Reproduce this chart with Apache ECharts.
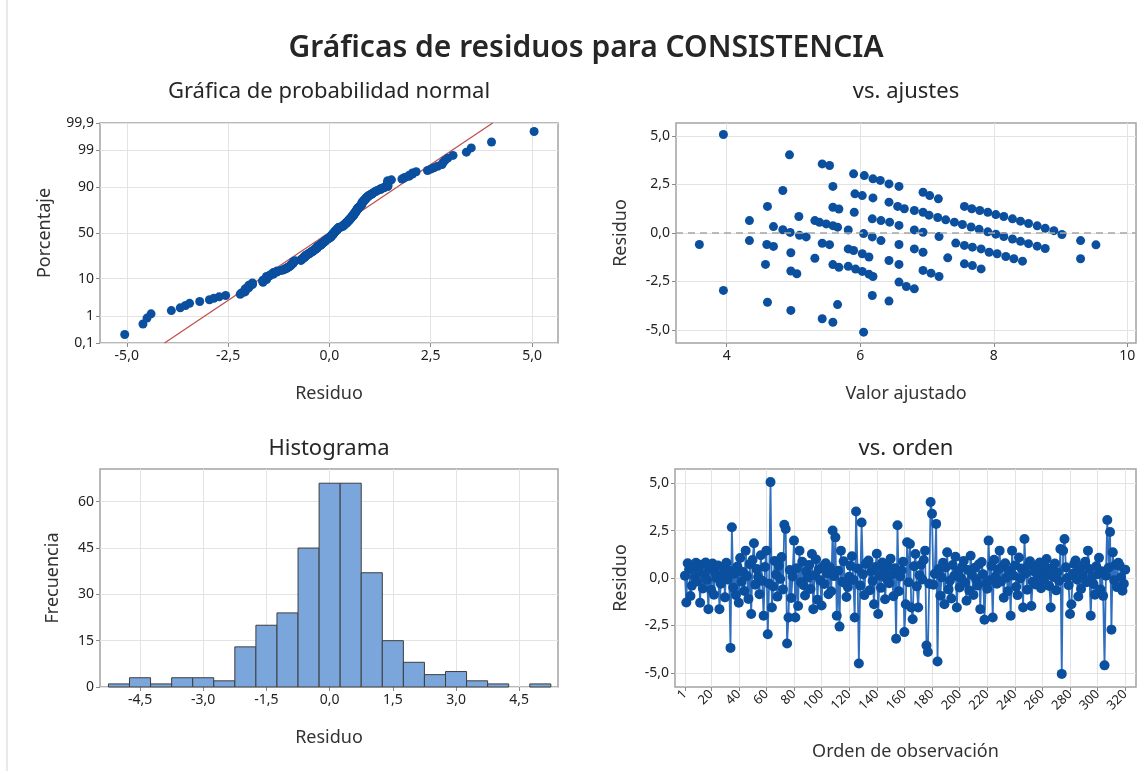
<!DOCTYPE html>
<html><head><meta charset="utf-8">
<script src="https://cdn.jsdelivr.net/npm/echarts@6/dist/echarts.min.js"></script>
<style>html,body{margin:0;padding:0;background:#fff;}#c{width:1147px;height:771px;}</style>
</head><body><div id="c"></div>
<script>
// ---------------- DATA ----------------
const mainTitle = 'Gráficas de residuos para CONSISTENCIA';
const panelTitles = ['Gráfica de probabilidad normal', 'vs. ajustes', 'Histograma', 'vs. orden'];

// residuals in observation order (read from the "vs. orden" panel)
const orderResid = [
 0.12,-1.29,0.78,0.45,-0.95,-0.4,0.62,0.05,0.8,-0.18,
 0.35,-1.3,0.7,-0.55,0.2,0.82,-0.1,-1.64,0.5,-0.62,
 0.76,-0.88,0.28,0.0,0.66,-1.64,-0.3,0.15,0.55,-1.02,
 0.8,-0.08,0.4,-3.68,2.67,-0.5,0.22,-0.9,0.6,-1.3,
 1.05,-0.2,0.32,-0.68,1.44,0.1,-1.1,0.72,-1.9,0.95,
 1.83,-0.35,0.48,0.05,-0.85,1.2,-0.15,-1.99,0.58,1.44,
 -2.96,-0.3,5.05,-1.55,-0.45,0.9,0.18,-0.98,0.65,-0.05,
 1.1,-0.6,2.8,2.58,-3.45,-2.08,0.42,-1.05,0.08,1.97,
 -2.08,0.52,-1.47,1.44,-0.22,0.85,-0.38,-0.92,0.36,0.02,
 0.68,-0.58,1.26,-1.64,0.14,0.98,-1.15,0.46,-0.12,-1.45,
 0.6,-0.32,0.78,0.24,-0.86,0.55,-0.7,2.5,0.1,2.14,
 -1.99,0.38,-2.56,1.44,-0.2,0.88,-0.27,-1.0,-0.48,0.06,
 0.64,1.15,-0.1,-2.08,3.5,0.5,-4.5,-0.4,2.92,0.2,
 -0.9,0.74,0.8,0.92,-0.64,0.34,-0.16,-1.38,0.58,1.28,
 -1.9,0.12,-0.52,0.82,0.44,-1.12,-0.04,0.66,-0.28,1.02,
 0.18,-0.96,0.52,-3.2,2.78,-0.7,0.08,0.4,0.86,-2.85,
 -1.38,1.88,-0.22,1.79,-1.55,-2.17,0.62,1.26,-0.44,-1.55,
 0.15,0.7,-0.08,0.95,1.44,-3.55,-3.9,-0.3,4.0,3.38,
 -0.36,0.22,2.85,-4.4,0.48,-0.93,0.04,0.8,-1.38,0.56,
 1.35,-0.6,-0.14,-1.08,0.68,0.1,1.12,-1.55,0.36,-0.5,
 0.0,0.6,0.9,-0.24,-1.2,0.42,-0.66,1.17,0.16,-0.89,
 0.54,-0.06,-0.4,0.72,-1.64,0.84,0.2,-2.2,-0.28,-0.56,
 1.97,-0.12,0.64,-2.08,0.96,0.07,-0.3,0.46,1.44,-0.18,
 0.58,-1.04,0.78,0.02,-0.7,0.38,-1.99,1.44,0.13,0.66,
 -0.46,-0.9,1.08,-0.02,0.5,-1.55,2.05,0.24,-0.62,0.7,
 0.88,-1.47,-0.2,0.34,-0.34,0.6,0.1,0.82,-0.54,0.44,
 -0.1,0.62,1.0,0.18,-0.42,-1.55,0.52,0.05,0.76,-0.65,
 0.3,-0.16,1.53,-5.05,1.44,2.05,0.56,0.0,-0.38,-1.9,
 -1.38,0.22,0.74,0.92,-0.08,-0.97,0.4,-0.58,0.14,0.68,
 0.86,-0.22,1.44,0.48,-1.99,0.06,-0.32,-0.88,0.62,0.2,
 1.06,-0.6,0.36,-0.94,-4.6,0.12,3.05,0.54,2.42,-2.72,
 1.35,-0.12,0.7,-0.48,0.8,0.65,0.04,-0.67,-0.3,0.44
];

// vs. fits panel (visible points)
const fitsX = [
 3.59,3.95,3.95,4.34,4.34,4.61,4.58,4.61,4.60,4.70,4.70,4.84,4.84,4.95,4.94,4.96,4.96,5.05,4.96,5.08,
 5.09,5.19,5.32,5.39,5.49,5.59,5.66,5.32,5.43,5.54,5.43,5.59,5.43,5.54,5.59,5.59,5.68,5.59,5.68,5.66,
 5.82,5.82,5.90,6.03,6.13,5.82,5.93,6.03,6.13,6.19,5.90,5.92,6.03,6.19,5.91,6.05,6.18,6.18,6.18,6.05,
 6.06,6.19,6.30,6.43,6.58,6.94,7.04,7.17,6.43,6.56,6.66,6.81,6.94,
 7.56,7.67,7.79,7.91,8.03,8.15,8.28,8.40,8.52,8.65,8.77,8.90,9.02,
 7.03,7.16,7.28,7.41,7.53,7.66,7.78,7.91,8.03,8.15,8.28,8.40,8.52,8.65,8.77,
 6.31,6.44,6.58,6.81,6.94,7.18,6.31,6.58,6.81,6.94,
 7.43,7.56,7.68,7.81,7.93,8.05,8.18,8.30,8.43,
 7.31,7.56,7.68,7.81,6.43,6.58,6.94,7.06,7.18,6.58,6.69,6.81,6.43,
 9.30,9.30,9.53
];
const fitsResid = [
 -0.59,5.08,-2.96,0.64,-0.39,1.37,-1.62,-3.57,-0.59,-0.69,0.33,2.19,0.17,0.03,4.03,-1.02,-1.96,-2.10,-3.99,0.85,
 -0.12,-0.20,0.64,0.55,0.47,0.38,0.30,-1.30,-0.53,-0.60,-4.42,-4.60,3.56,3.48,2.40,1.33,1.24,-1.63,-1.77,-3.69,
 0.16,-0.82,-0.90,-1.07,-1.24,-1.72,-1.86,-1.98,-2.12,-2.24,3.05,2.02,1.93,1.81,1.07,-0.03,-0.20,0.73,-3.22,-5.11,
 2.96,2.79,2.71,2.53,2.40,2.10,1.93,1.76,1.59,1.37,1.25,1.16,1.07,
 1.37,1.25,1.16,1.07,0.95,0.85,0.73,0.61,0.49,0.37,0.24,0.12,-0.08,
 0.92,0.80,0.68,0.56,0.44,0.31,0.19,0.06,-0.06,-0.18,-0.31,-0.43,-0.55,-0.68,-0.80,
 0.64,0.56,0.39,0.16,0.04,-0.18,-0.39,-0.59,-0.82,-0.99,
 -0.52,-0.64,-0.73,-0.82,-0.99,-1.07,-1.21,-1.33,-1.45,
 -1.28,-1.59,-1.68,-1.85,-1.42,-1.62,-1.93,-2.07,-2.24,-2.53,-2.76,-2.88,-3.51,
 -0.39,-1.33,-0.61
];

// histogram (bin centres, counts)
const histCenters = [-5.0,-4.5,-4.0,-3.5,-3.0,-2.5,-2.0,-1.5,-1.0,-0.5,0.0,0.5,1.0,1.5,2.0,2.5,3.0,3.5,4.0,4.5,5.0];
const histCounts  = [1,3,1,3,3,2,13,20,24,45,66,66,37,15,8,4,5,2,1,0,1];
const histBinWidth = 0.5;

// reference line of the normal plot (mean, std. dev.)
const normFitMean = -0.02;
const normFitSD = 1.31;

// tick labels
const probTicks  = [0.1, 1, 10, 50, 90, 99, 99.9];
const probLabels = ['0,1', '1', '10', '50', '90', '99', '99,9'];
const residTicks = [-5, -2.5, 0, 2.5, 5];
const fitsXTicks = [4, 6, 8, 10];
const histXTicks = [-4.5, -3, -1.5, 0, 1.5, 3, 4.5];
const histYTicks = [0, 15, 30, 45, 60];
const orderXTicks = [1, 20, 40, 60, 80, 100, 120, 140, 160, 180, 200, 220, 240, 260, 280, 300, 320];

// ---------------- HELPERS ----------------
function qnorm(p){
 const a=[-3.969683028665376e+01,2.209460984245205e+02,-2.759285104469687e+02,1.383577518672690e+02,-3.066479806614716e+01,2.506628277459239e+00];
 const b=[-5.447609879822406e+01,1.615858368580409e+02,-1.556989798598866e+02,6.680131188771972e+01,-1.328068155288572e+01];
 const c=[-7.784894002430293e-03,-3.223964580411365e-01,-2.400758277161838e+00,-2.549732539343734e+00,4.374664141464968e+00,2.938163982698783e+00];
 const d=[7.784695709041462e-03,3.224671290700398e-01,2.445134137142996e+00,3.754408661907416e+00];
 const pl=0.02425, ph=1-pl; let q, r;
 if(p<pl){q=Math.sqrt(-2*Math.log(p));return (((((c[0]*q+c[1])*q+c[2])*q+c[3])*q+c[4])*q+c[5])/((((d[0]*q+d[1])*q+d[2])*q+d[3])*q+1);}
 if(p>ph){q=Math.sqrt(-2*Math.log(1-p));return -(((((c[0]*q+c[1])*q+c[2])*q+c[3])*q+c[4])*q+c[5])/((((d[0]*q+d[1])*q+d[2])*q+d[3])*q+1);}
 q=p-0.5;r=q*q;return (((((a[0]*r+a[1])*r+a[2])*r+a[3])*r+a[4])*r+a[5])*q/(((((b[0]*r+b[1])*r+b[2])*r+b[3])*r+b[4])*r+1);
}
const FONT = "'Noto Sans', 'Open Sans', sans-serif";
const BLUE = '#0b4f9f';
const fmt1 = v => (Math.abs(v) < 1e-9 ? 0 : v).toFixed(1).replace('.', ',');
const zTicks = probTicks.map(p => qnorm(p / 100));
const zMin = zTicks[0], zMax = zTicks[zTicks.length - 1];

// normal probability plot points (median ranks)
const sorted = orderResid.slice().sort((a, b) => a - b);
const nObs = sorted.length;
const normPts = sorted.map((v, i) => [v, qnorm((i + 1 - 0.3) / (nObs + 0.4))]);

function axis(gridIndex, min, max, ticks, fmt, name, nameGap, extra) {
  const ax = {
    type: 'value', gridIndex, min, max, name, nameLocation: 'middle', nameGap,
    nameTextStyle: { fontSize: 18, color: '#333', fontFamily: FONT },
    axisLine: { show: false, onZero: false },
    axisTick: { show: true, customValues: ticks, length: 4, lineStyle: { color: '#8a8a8a' } },
    axisLabel: { customValues: ticks, formatter: fmt, fontSize: 14, color: '#222', fontFamily: FONT, margin: 6 },
    splitLine: { show: true, lineStyle: { color: '#e3e3e3', width: 1 } }
  };
  if (extra) {
    for (const k in extra) {
      if (typeof extra[k] === 'object' && ax[k]) Object.assign(ax[k], extra[k]); else ax[k] = extra[k];
    }
  }
  return ax;
}
const gridStyle = { show: true, borderColor: '#a3a3a3', borderWidth: 1.5, backgroundColor: 'transparent' };

// ---------------- CHART ----------------
const chart = echarts.init(document.getElementById('c'), null, { renderer: 'canvas' });
const txt = (t, x, y, size, weight) => ({
  type: 'text', x, y, silent: true,
  style: { text: t, x: 0, y: 0, align: 'center', verticalAlign: 'middle', textAlign: 'center', textVerticalAlign: 'middle',
           font: (weight || 'normal') + ' ' + size + 'px ' + FONT, fill: '#262626' }
});

chart.setOption({
  animation: false,
  backgroundColor: '#fff',
  graphic: [
    { type: 'line', shape: { x1: 7, y1: 0, x2: 7, y2: 771 }, style: { stroke: '#d4d4d4', lineWidth: 1 }, silent: true },
    txt(mainTitle, 586, 48, 30, '600'),
    txt(panelTitles[0], 329, 92, 22),
    txt(panelTitles[1], 906, 92, 22),
    txt(panelTitles[2], 329, 449, 22),
    txt(panelTitles[3], 906, 449, 22)
  ],
  grid: [
    Object.assign({ left: 100, top: 123, width: 458, height: 220 }, gridStyle),
    Object.assign({ left: 676, top: 123, width: 460, height: 220 }, gridStyle),
    Object.assign({ left: 100, top: 469, width: 458, height: 218 }, gridStyle),
    Object.assign({ left: 675, top: 469, width: 461, height: 218 }, gridStyle)
  ],
  xAxis: [
    axis(0, -5.66, 5.64, residTicks, fmt1, 'Residuo', 42),
    axis(1, 3.24, 10.13, fitsXTicks, v => String(Math.round(v)), 'Valor ajustado', 42),
    axis(2, -5.45, 5.42, histXTicks, fmt1, 'Residuo', 42),
    axis(3, -6.2, 327.8, orderXTicks, v => String(Math.round(v)), 'Orden de observación', 56,
         { axisLabel: { rotate: 45, fontSize: 13, margin: 5 } })
  ],
  yAxis: [
    axis(0, zMin, zMax, zTicks, v => { let best = 0; zTicks.forEach((z, i) => { if (Math.abs(z - v) < Math.abs(zTicks[best] - v)) best = i; }); return probLabels[best]; }, 'Porcentaje', 46),
    axis(1, -5.67, 5.67, residTicks, fmt1, 'Residuo', 46),
    axis(2, 0, 70.6, histYTicks, v => String(Math.round(v)), 'Frecuencia', 38),
    axis(3, -5.74, 5.74, residTicks, fmt1, 'Residuo', 45)
  ],
  series: [
    {
      type: 'line', xAxisIndex: 0, yAxisIndex: 0, symbol: 'none', silent: true, z: 2,
      lineStyle: { color: '#c0504d', width: 1.3 },
      data: [[normFitMean + normFitSD * zMin, zMin], [normFitMean + normFitSD * zMax, zMax]]
    },
    {
      type: 'scatter', xAxisIndex: 0, yAxisIndex: 0, symbolSize: 9, z: 3,
      itemStyle: { color: BLUE, opacity: 1 }, data: normPts
    },
    {
      type: 'scatter', xAxisIndex: 1, yAxisIndex: 1, symbolSize: 9, z: 3,
      itemStyle: { color: BLUE, opacity: 1 },
      data: fitsX.map((x, i) => [x, fitsResid[i]]),
      markLine: {
        silent: true, symbol: 'none', label: { show: false },
        lineStyle: { type: [7, 5], color: '#a6a6a6', width: 1.5 },
        data: [{ yAxis: 0 }]
      }
    },
    {
      type: 'custom', xAxisIndex: 2, yAxisIndex: 2, z: 3,
      data: histCenters.map((c, i) => [c - histBinWidth / 2, c + histBinWidth / 2, histCounts[i]]).filter(d => d[2] > 0),
      encode: { x: [0, 1], y: 2 },
      renderItem: (params, api) => {
        const p0 = api.coord([api.value(0), api.value(2)]);
        const p1 = api.coord([api.value(1), 0]);
        return {
          type: 'rect',
          shape: { x: p0[0], y: p0[1], width: p1[0] - p0[0], height: p1[1] - p0[1] },
          style: { fill: '#7aa6db', stroke: '#3d3d3d', lineWidth: 1 }
        };
      }
    },
    {
      type: 'line', xAxisIndex: 3, yAxisIndex: 3, z: 3,
      symbol: 'circle', symbolSize: 10, showAllSymbol: true,
      lineStyle: { color: '#2f6fbd', width: 1.8 },
      itemStyle: { color: BLUE },
      data: orderResid.map((v, i) => [i + 1, v])
    }
  ]
});
</script>
</body></html>
